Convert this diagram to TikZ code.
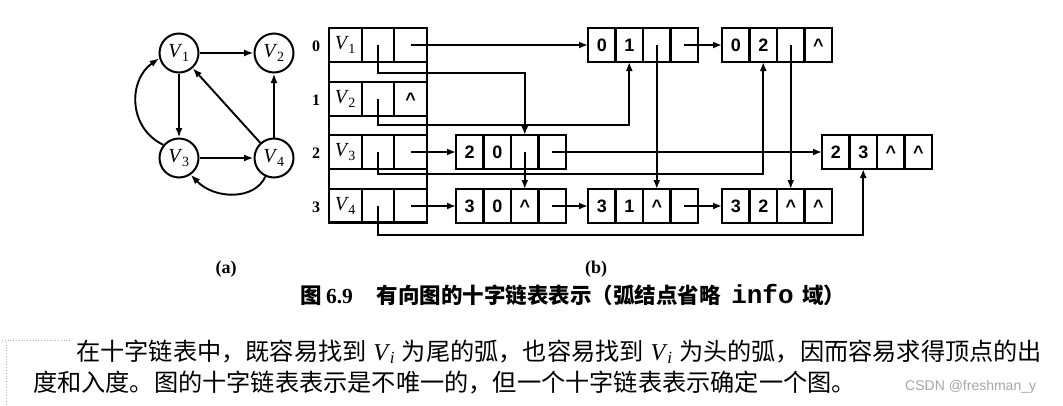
\documentclass[tikz,border=0pt]{standalone}
\usepackage{fontspec}
\setmainfont{Liberation Serif}
\setmonofont{Liberation Mono}
\newfontfamily\cjk{Noto Sans CJK SC}
\newfontfamily\cellfont{Liberation Sans}
\usetikzlibrary{arrows.meta}
\newcommand\Vx[1]{\textit{V}\kern-0.5pt\textsubscript{#1}}
\tikzset{
  cell/.style={draw, line width=2.2pt, minimum width=27.5pt, minimum height=34pt,
    inner sep=0pt, outer sep=0pt, anchor=north west,
    font=\cellfont\bfseries\fontsize{18}{18}\selectfont},
  vcell/.style={draw, line width=2.2pt, minimum width=32.67pt, minimum height=34pt,
    inner sep=0pt, outer sep=0pt, anchor=north west,
    font=\fontsize{20}{20}\selectfont},
  idx/.style={font=\bfseries\fontsize{16}{16}\selectfont, inner sep=0pt},
  vert/.style={circle, draw, line width=2pt, minimum size=39pt, inner sep=0pt,
    font=\fontsize{20}{20}\selectfont},
  ptr/.style={line width=1.8pt, -{Latex[length=9pt,width=7pt]}},
  garc/.style={line width=1.9pt, -{Latex[length=9.5pt,width=7pt]}},
  lbl/.style={font=\bfseries\fontsize{18}{18}\selectfont, inner sep=0pt},
  artifact/.style={gray!60, line width=0.8pt, dotted},
}
\newcommand\arcbox[7]{%
  \node[cell] (#1a) at (#2,#3) {#4};
  \node[cell] (#1b) at (#1a.north east) {#5};
  \node[cell] (#1c) at (#1b.north east) {#6};
  \node[cell] (#1d) at (#1c.north east) {#7};
}
\newcommand\vrow[5]{%
  \node[vcell] (#1a) at (329,#2) {#4};
  \node[vcell] (#1b) at (#1a.north east) {};
  \node[vcell] (#1c) at (#1b.north east) {#5};
  \node[idx] (#1n) at (316,{#2+18}) {#3};
}
\begin{document}
\begin{tikzpicture}[x=1pt,y=-1pt]
\useasboundingbox (0,0) rectangle (1063,405);
\fill[white] (0,0) rectangle (1063,405);

% ---------- (a) graph ----------
\node[vert] (v1) at (179,53) {\Vx{1}};
\node[vert] (v2) at (274,53) {\Vx{2}};
\node[vert] (v3) at (179,158) {\Vx{3}};
\node[vert] (v4) at (274,158) {\Vx{4}};
\draw[garc] (v1) -- (v2);
\draw[garc] (v1) -- (v3);
\draw[garc] (v3) -- (v4);
\draw[garc] (v4) -- (v2);
\draw[garc] (v4) -- (v1);
\draw[garc] (v3.140) .. controls (128,128) and (128,80) .. (v1.195);
\draw[garc] (v4.245) .. controls (255,200) and (215,200) .. (v3.305);

% ---------- (b) orthogonal list ----------
\node[draw, line width=2.2pt, minimum width=98pt, minimum height=194pt,
  inner sep=0pt, outer sep=0pt, anchor=north west] (vframe) at (329,28) {};
\vrow{r0}{28}{0}{\Vx{1}}{}
\vrow{r1}{82}{1}{\Vx{2}}{\cellfont\bfseries\fontsize{18}{18}\selectfont\textasciicircum}
\vrow{r2}{135}{2}{\Vx{3}}{}
\vrow{r3}{189}{3}{\Vx{4}}{}

\arcbox{n01}{588}{28}{0}{1}{}{}
\arcbox{n02}{722}{28}{0}{2}{}{\textasciicircum}
\arcbox{n20}{456}{135}{2}{0}{}{}
\arcbox{n23}{822}{135}{2}{3}{\textasciicircum}{\textasciicircum}
\arcbox{n30}{456}{189}{3}{0}{\textasciicircum}{}
\arcbox{n31}{588}{189}{3}{1}{\textasciicircum}{}
\arcbox{n32}{722}{189}{3}{2}{\textasciicircum}{\textasciicircum}

\coordinate (h0) at (450,73);
\coordinate (h1) at (500,125);
\coordinate (h2) at (600,174);
\coordinate (h3) at (600,235);

% out-lists
\draw[ptr] (r0c.center) -- (n01a.west);
\draw[ptr] (r2c.center) -- (n20a.west);
\draw[ptr] (r3c.center) -- (n30a.west);
\draw[ptr] (n01d.center) -- (n02a.west);
\draw[ptr] (n20d.center) -- (n23a.west);
\draw[ptr] (n30d.center) -- (n31a.west);
\draw[ptr] (n31d.center) -- (n32a.west);
% in-lists
\draw[ptr] (r0b.center) |- (h0) -| (n20c.north);
\draw[ptr] (r1b.center) |- (h1) -| (n01b.south);
\draw[ptr] (r2b.center) |- (h2) -| (n02b.south);
\draw[ptr] (r3b.center) |- (h3) -| (n23b.south);
\draw[ptr] (n01c.center) -- (n31c.north);
\draw[ptr] (n02c.center) -- (n32c.north);
\draw[ptr] (n20c.center) -- (n30c.north);

% ---------- labels ----------
\node[lbl] (la) at (226,269) {(a)};
\node[lbl] (lb) at (596,269) {(b)};
\node[anchor=base west, inner sep=0pt, font=\cjk\bfseries\fontsize{21.5}{21.5}\selectfont] (cap) at (300,303)
  {图\hspace{0.2em}{\rmfamily\bfseries 6.9}\hspace{1.1em}有向图的十字链表表示（弧结点省略\hspace{0.5em}{\ttfamily\bfseries\fontsize{26}{26}\selectfont info}\hspace{0.4em}域）};

\node[anchor=base west, inner sep=0pt, font=\cjk\fontsize{24.2}{24.2}\selectfont] (p1) at (76,360)
  {\makebox[966pt][s]{在十字链表中，既容易找到 {\rmfamily\Vx{\textit{i}}} 为尾的弧，也容易找到 {\rmfamily\Vx{\textit{i}}} 为头的弧，因而容易求得顶点的出}};
\node[anchor=base west, inner sep=0pt, font=\cjk\fontsize{24.2}{24.2}\selectfont] (p2) at (33,391)
  {度和入度。图的十字链表表示是不唯一的，但一个十字链表表示确定一个图。};
\node[anchor=base west, inner sep=0pt, text=gray!70, font=\cellfont\fontsize{14}{14}\selectfont] (wm) at (905,390)
  {CSDN @freshman\_y};

% scan marks at the left edge
\draw[artifact] (2,340) -- (70,340);
\draw[artifact] (6,342) -- (6,405);
\end{tikzpicture}
\end{document}
